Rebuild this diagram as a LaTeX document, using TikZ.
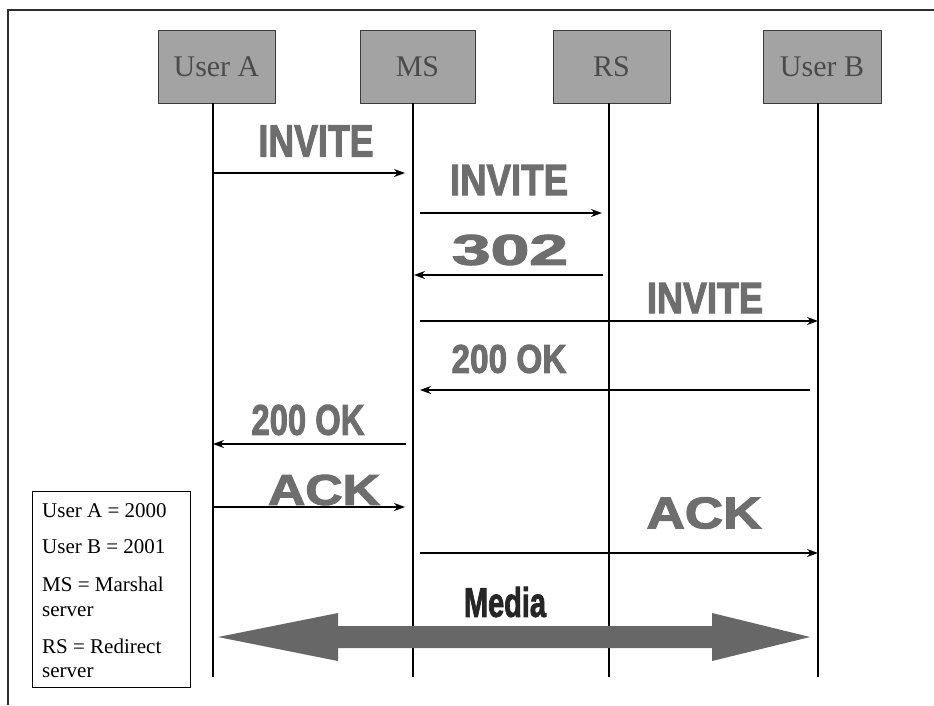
\documentclass[tikz,border=0pt]{standalone}
\usepackage{fontspec}
\setmainfont{Liberation Serif}
\newfontfamily\heavyfont[FakeBold=2.4]{Liberation Sans Bold}
\usetikzlibrary{arrows.meta}

\definecolor{boxgray}{HTML}{A3A3A3}
\definecolor{boxedge}{HTML}{3C3C3C}
\definecolor{boxtext}{HTML}{4A4A4A}
\definecolor{msgtext}{HTML}{6E6E6E}
\definecolor{mediagray}{HTML}{676767}
\definecolor{mediatext}{HTML}{262626}
\definecolor{framecol}{HTML}{2E2E2E}

% heavy message label stretched to a given width and height
\newcommand{\msglbl}[3]{\resizebox{#1pt}{#2pt}{\heavyfont #3}}

\tikzset{
  entity/.style={draw=boxedge, line width=0.9pt, fill=boxgray, text=boxtext,
    font=\fontsize{30}{32}\selectfont, inner sep=0pt},
  lifeline/.style={draw=black, line width=1.1pt},
  msg/.style={draw=black, line width=1.1pt, -{Stealth[length=11pt,width=8pt]}},
  msglabel/.style={inner sep=0pt, text=msgtext},
  legendtext/.style={inner sep=0pt, anchor=base west,
    font=\fontsize{21}{25}\selectfont},
  frameline/.style={draw=framecol, line width=2pt},
}

\begin{document}
\begin{tikzpicture}[x=1pt, y=-1pt]
\useasboundingbox (0,0) rectangle (934,705);
\fill[white] (0,0) rectangle (934,705);

% outer frame
\draw[frameline] (8,705) -- (8,10) -- (934,10);

% participants
\node[entity, minimum width=117pt, minimum height=73pt] (ua) at (216.5,66.5) {User A};
\node[entity, minimum width=115pt, minimum height=73pt] (ms) at (417.5,66.5) {MS};
\node[entity, minimum width=117pt, minimum height=73pt] (rs) at (611.5,66.5) {RS};
\node[entity, minimum width=118pt, minimum height=73pt] (ub) at (822,66.5) {User B};

% lifelines
\coordinate (uaT) at (213,103); \coordinate (uaB) at (213,677);
\coordinate (msT) at (413,103); \coordinate (msB) at (413,677);
\coordinate (rsT) at (609,103); \coordinate (rsB) at (609,677);
\coordinate (ubT) at (818,103); \coordinate (ubB) at (818,677);
\draw[lifeline] (uaT) -- (uaB);
\draw[lifeline] (msT) -- (msB);
\draw[lifeline] (rsT) -- (rsB);
\draw[lifeline] (ubT) -- (ubB);

% message end points
\coordinate (m1a) at (213,173); \coordinate (m1b) at (405,173);
\coordinate (m2a) at (420,213); \coordinate (m2b) at (602,213);
\coordinate (m3a) at (603,275); \coordinate (m3b) at (414,275);
\coordinate (m4a) at (420,321); \coordinate (m4b) at (818,321);
\coordinate (m5a) at (810,390); \coordinate (m5b) at (420,390);
\coordinate (m6a) at (406,444); \coordinate (m6b) at (213,444);
\coordinate (m7a) at (213,507); \coordinate (m7b) at (405,507);
\coordinate (m8a) at (420,553); \coordinate (m8b) at (818,553);

% message labels
\node[msglabel] (l1) at (316,141) {\msglbl{115}{31}{INVITE}};
\node[msglabel] (l2) at (509,180) {\msglbl{118}{30}{INVITE}};
\node[msglabel] (l3) at (510,250) {\msglbl{116}{30}{302}};
\node[msglabel] (l4) at (705,298) {\msglbl{116}{30}{INVITE}};
\node[msglabel] (l5) at (509,359) {\msglbl{115}{28}{200 OK}};
\node[msglabel] (l6) at (308,420) {\msglbl{113}{30}{200 OK}};
\node[msglabel] (l7) at (324,490) {\msglbl{112}{30}{ACK}};
\node[msglabel] (l8) at (704,513) {\msglbl{115}{31}{ACK}};

% messages
\draw[msg] (m1a) -- (m1b);
\draw[msg] (m2a) -- (m2b);
\draw[msg] (m3a) -- (m3b);
\draw[msg] (m4a) -- (m4b);
\draw[msg] (m5a) -- (m5b);
\draw[msg] (m6a) -- (m6b);
\draw[msg] (m7a) -- (m7b);
\draw[msg] (m8a) -- (m8b);

% media stream
\node[msglabel, text=mediatext] (media) at (505,602) {\msglbl{82}{30}{Media}};
\coordinate (mdL) at (218,637);
\coordinate (mdR) at (810,637);
\fill[mediagray] (mdL) -- (338,613) -- (338,626) -- (712,626) -- (712,613)
  -- (mdR) -- (712,661) -- (712,648) -- (338,648) -- (338,661) -- cycle;

% legend
\node[draw=black, line width=1pt, minimum width=158pt, minimum height=196pt,
  inner sep=0pt] (legend) at (111,589) {};
\node[legendtext] (k1) at (42,517) {User A = 2000};
\node[legendtext] (k2) at (42,553) {User B = 2001};
\node[legendtext] (k3) at (42,591) {MS = Marshal};
\node[legendtext] (k3b) at (42,616) {server};
\node[legendtext] (k4) at (42,653) {RS = Redirect};
\node[legendtext] (k4b) at (42,677) {server};
\end{tikzpicture}
\end{document}
